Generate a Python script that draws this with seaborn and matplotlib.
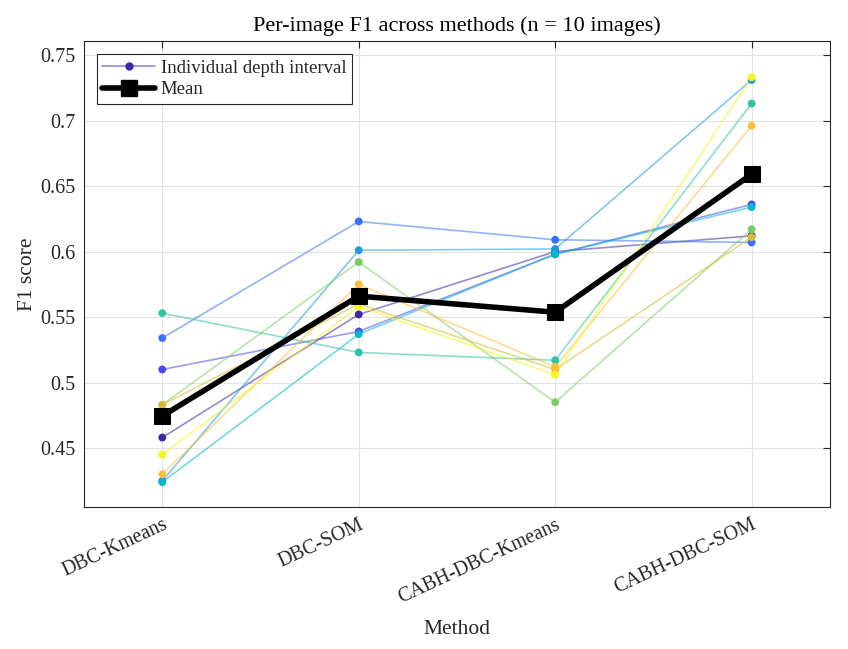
import numpy as np
import pandas as pd
import seaborn as sns
import matplotlib.pyplot as plt
from matplotlib.lines import Line2D

# per-image F1 values, one list per image
methods = ["DBC-Kmeans", "DBC-SOM", "CABH-DBC-Kmeans", "CABH-DBC-SOM"]
img01 = [0.458, 0.552, 0.600, 0.612]
img02 = [0.510, 0.539, 0.598, 0.636]
img03 = [0.534, 0.623, 0.609, 0.607]
img04 = [0.425, 0.601, 0.602, 0.731]
img05 = [0.424, 0.537, 0.598, 0.634]
img06 = [0.553, 0.523, 0.517, 0.713]
img07 = [0.483, 0.592, 0.485, 0.617]
img08 = [0.483, 0.560, 0.510, 0.611]
img09 = [0.430, 0.575, 0.512, 0.696]
img10 = [0.445, 0.558, 0.506, 0.733]
images = [img01, img02, img03, img04, img05, img06, img07, img08, img09, img10]

# parula-like colours, one per image
parula10 = [
    (0.2422, 0.1504, 0.6603), (0.2780, 0.2900, 0.9300), (0.2100, 0.4500, 0.9900),
    (0.1300, 0.6000, 0.8800), (0.0300, 0.7100, 0.8100), (0.1800, 0.7700, 0.6300),
    (0.4900, 0.8000, 0.3700), (0.8300, 0.7400, 0.2000), (0.9900, 0.7500, 0.2300),
    (0.9700, 0.9600, 0.0800),
]

rows = []
for i, vals in enumerate(images):
    for m, v in zip(methods, vals):
        rows.append({"image": i, "Method": m, "F1": v})
df = pd.DataFrame(rows)
df["pos"] = df["Method"].map({m: k for k, m in enumerate(methods)})
mean_df = df.groupby("pos", as_index=False)["F1"].mean()

sns.set_theme(style="white")
plt.rcParams["font.family"] = ["Liberation Serif", "DejaVu Serif"]

fig = plt.figure(figsize=(8.48, 6.49), dpi=100)
ax = fig.add_axes([0.0987, 0.2188, 0.8803, 0.7185])

sns.lineplot(data=df, x="pos", y="F1", hue="image", palette=parula10,
             lw=1.2, alpha=0.55, legend=False, ax=ax, zorder=2)
sns.scatterplot(data=df, x="pos", y="F1", hue="image", palette=parula10,
                s=32, edgecolor="none", legend=False, ax=ax, zorder=3)
sns.lineplot(data=mean_df, x="pos", y="F1", color="black", lw=4,
             marker="s", markersize=12, markeredgecolor="black", ax=ax, zorder=4)

ax.set_xlim(-0.4, 3.4)
ax.set_ylim(0.405, 0.761)
ax.set_xticks(range(len(methods)))
ax.set_xticklabels(methods, rotation=25, ha="right", va="top",
                   rotation_mode="anchor", fontsize=14.5)
ax.set_yticks([0.45, 0.5, 0.55, 0.6, 0.65, 0.7, 0.75])
ax.set_yticklabels(["0.45", "0.5", "0.55", "0.6", "0.65", "0.7", "0.75"], fontsize=14.5)
ax.tick_params(direction="in", length=5, top=True, right=True, colors="#262626",
               width=0.8, pad=6)
ax.grid(True, color="#e3e3e3", lw=0.8)
for sp in ax.spines.values():
    sp.set_color("#262626")
    sp.set_linewidth(0.8)

ax.set_xlabel("Method", fontsize=15.5, color="#262626", labelpad=9)
ax.set_ylabel("F1 score", fontsize=15.5, color="#262626", labelpad=2)
ax.set_title("Per-image F1 across methods (n = 10 images)", fontsize=16,
             color="black", pad=7)

handles = [
    Line2D([], [], color=parula10[0] + (0.55,), lw=1.2, marker="o", markersize=5,
           markerfacecolor=parula10[0], markeredgecolor=parula10[0]),
    Line2D([], [], color="black", lw=4, marker="s", markersize=12),
]
leg = ax.legend(handles, ["Individual depth interval", "Mean"], loc="upper left",
                fontsize=13.5, fancybox=False, framealpha=1, edgecolor="#262626",
                borderaxespad=0.7, handlelength=2.8, handletextpad=0.3,
                labelspacing=0.25, borderpad=0.3)
leg.get_frame().set_linewidth(0.8)

fig.savefig("out.png", dpi=100)
